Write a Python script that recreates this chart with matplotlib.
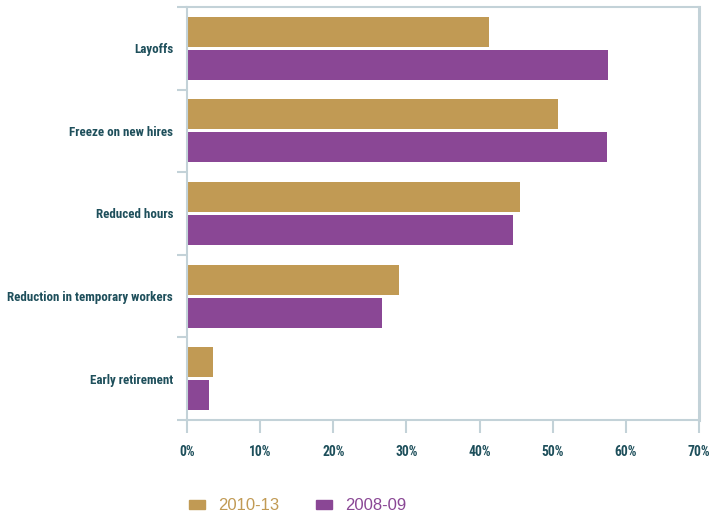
import matplotlib
matplotlib.use("Agg")
import matplotlib.pyplot as plt
import numpy as np
from matplotlib.patches import Patch

categories = ["Layoffs", "Freeze on new hires", "Reduced hours",
              "Reduction in temporary workers", "Early retirement"]
vals_2010_13 = [41.3, 50.7, 45.5, 29.0, 3.6]
vals_2008_09 = [57.6, 57.4, 44.6, 26.7, 3.0]
series_names = ["2010-13", "2008-09"]
xtick_vals = [0, 10, 20, 30, 40, 50, 60, 70]

gold = "#c19a54"
purple = "#8a4795"
text_col = "#1e4f5b"
axis_col = "#c3d2d8"
label_font = ["Roboto Condensed", "Barlow Condensed", "DejaVu Sans"]
legend_font = ["Liberation Sans", "DejaVu Sans"]

fig = plt.figure(figsize=(7.11, 5.12), dpi=100)
ax = fig.add_axes([187 / 711, 1 - 420 / 512, 512 / 711, 413 / 512])

y = np.arange(len(categories))
h = 0.363
gap = 0.036
ax.barh(y - (h + gap) / 2, vals_2010_13, height=h, color=gold)
ax.barh(y + (h + gap) / 2, vals_2008_09, height=h, color=purple)

ax.set_xlim(0, 70)
ax.set_ylim(len(categories) - 0.5, -0.5)

# category labels at centres, tick marks at group boundaries
ax.set_yticks(y)
ax.set_yticklabels(categories, fontsize=9.4, fontweight="bold", color=text_col,
                   family=label_font)
ax.tick_params(axis="y", which="major", length=0, pad=10)
ax.set_yticks(np.arange(-0.5, len(categories), 1), minor=True)
ax.tick_params(axis="y", which="minor", length=7, width=1.5, color=axis_col)

ax.set_xticks(xtick_vals)
ax.set_xticklabels([f"{v}%" for v in xtick_vals], fontsize=9.8, fontweight="bold",
                   color=text_col, family=label_font)
ax.tick_params(axis="x", length=9, width=1.5, color=axis_col, pad=9)

for s in ax.spines.values():
    s.set_color(axis_col)
    s.set_linewidth(1.5)
ax.spines["right"].set_linewidth(2.2)

handles = [Patch(color=gold), Patch(color=purple)]
leg = fig.legend(handles, series_names, loc="lower left",
                 bbox_to_anchor=(174 / 711, -0.032), ncol=2, frameon=False,
                 prop={"family": legend_font, "size": 12},
                 handlelength=0.96, handleheight=0.48,
                 handletextpad=0.78, columnspacing=2.2)
for t, c in zip(leg.get_texts(), [gold, purple]):
    t.set_color(c)

fig.savefig("out.png", dpi=100)
